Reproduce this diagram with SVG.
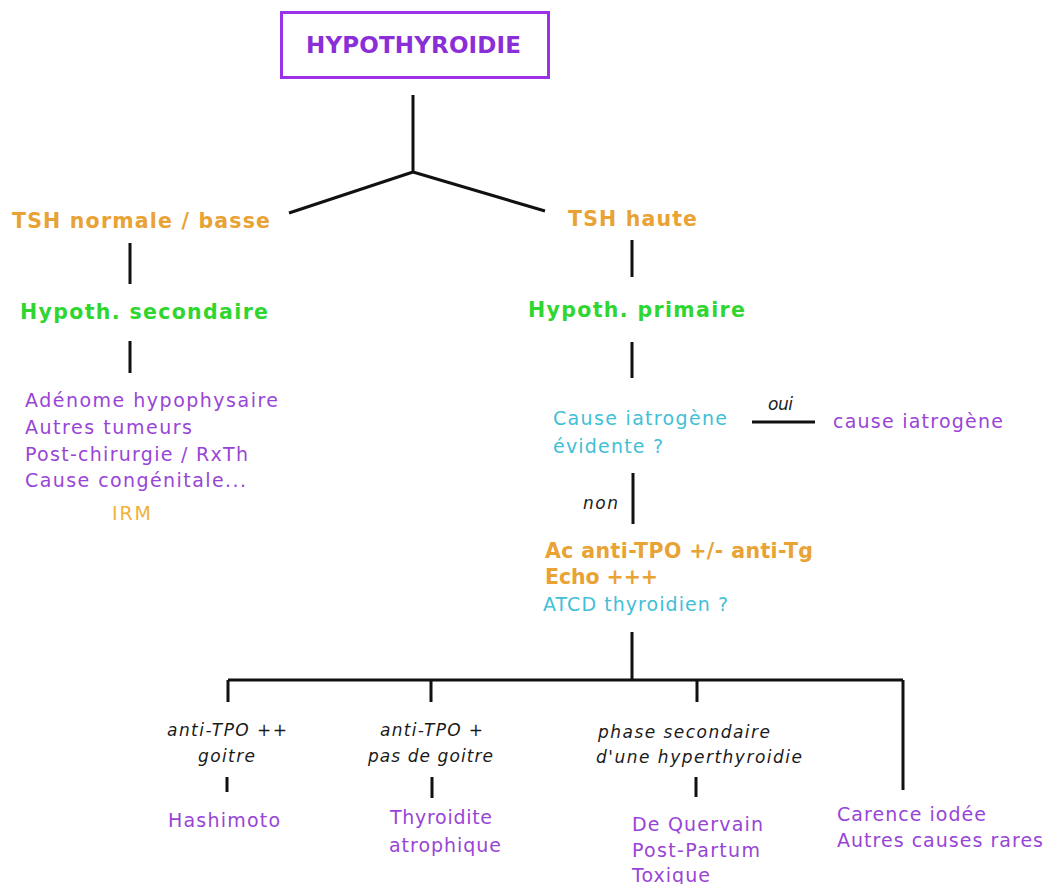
<svg xmlns="http://www.w3.org/2000/svg" width="1045" height="884" viewBox="0 0 1045 884">
  <style>
    text { font-family: "DejaVu Sans", Verdana, sans-serif; }
    .title { font-size: 23px; font-weight: bold; fill: #8a2ed8; }
    .head-o { font-size: 20.5px; font-weight: bold; fill: #e9a234; }
    .head-g { font-size: 20.5px; font-weight: bold; fill: #2fd62f; }
    .cause { font-size: 19px; fill: #9845d6; }
    .exam { font-size: 19px; fill: #f0b23c; }
    .quest { font-size: 19px; fill: #3fc0d6; }
    .crit { font-size: 17px; font-style: italic; fill: #1a1a1a; }
    .link { stroke: #111; stroke-width: 3; fill: none; stroke-linecap: butt; }
  </style>

  <rect width="1045" height="884" fill="#ffffff"/>

  <!-- connectors -->
  <g id="connectors" class="link">
    <path d="M413 95 V172 M413 172 L289 213 M413 172 L545 211"/>
    <path d="M130 243 V284 M130 341 V373"/>
    <path d="M632 240 V277 M632 342 V378"/>
    <path d="M752 422 H815"/>
    <path d="M633 473 V524"/>
    <path d="M632 632 V680 M228 680 H903"/>
    <path d="M228 680 V702 M431 680 V702 M697 680 V702 M903 680 V790"/>
    <path d="M227 777 V792 M432 777 V798 M696 777 V797"/>
  </g>

  <!-- root -->
  <g id="node-hypothyroidie">
    <rect x="281.5" y="12.5" width="267" height="65" fill="#ffffff" stroke="#9b32ea" stroke-width="3"/>
    <text class="title" x="306" y="53" textLength="215">HYPOTHYROIDIE</text>
  </g>

  <!-- left branch -->
  <g id="node-tsh-basse">
    <text class="head-o" x="12" y="228" textLength="258">TSH normale / basse</text>
  </g>
  <g id="node-secondaire">
    <text class="head-g" x="20" y="319" textLength="248">Hypoth. secondaire</text>
  </g>
  <g id="node-causes-secondaires">
    <text class="cause" x="25" y="407" textLength="253">Adénome hypophysaire</text>
    <text class="cause" x="25" y="434" textLength="167">Autres tumeurs</text>
    <text class="cause" x="25" y="461" textLength="223">Post-chirurgie / RxTh</text>
    <text class="cause" x="25" y="487" textLength="221">Cause congénitale...</text>
    <text class="exam" x="112" y="520" textLength="39">IRM</text>
  </g>

  <!-- right branch -->
  <g id="node-tsh-haute">
    <text class="head-o" x="568" y="226" textLength="129">TSH haute</text>
  </g>
  <g id="node-primaire">
    <text class="head-g" x="528" y="317" textLength="217">Hypoth. primaire</text>
  </g>
  <g id="node-iatrogene-question">
    <text class="quest" x="553" y="425" textLength="174">Cause iatrogène</text>
    <text class="quest" x="553" y="453" textLength="110">évidente ?</text>
  </g>
  <g id="label-oui">
    <text class="crit" x="768" y="410" textLength="25">oui</text>
  </g>
  <g id="node-iatrogene">
    <text class="cause" x="833" y="428" textLength="170">cause iatrogène</text>
  </g>
  <g id="label-non">
    <text class="crit" x="583" y="509" textLength="35">non</text>
  </g>
  <g id="node-bilan">
    <text class="head-o" x="545" y="558" textLength="268">Ac anti-TPO +/- anti-Tg</text>
    <text class="head-o" x="545" y="584" textLength="113">Echo +++</text>
    <text class="quest" x="543" y="611" textLength="185">ATCD thyroidien ?</text>
  </g>

  <!-- etiologies -->
  <g id="node-critere-hashimoto">
    <text class="crit" x="167" y="736" textLength="120">anti-TPO ++</text>
    <text class="crit" x="198" y="762" textLength="57">goitre</text>
  </g>
  <g id="node-hashimoto">
    <text class="cause" x="168" y="827" textLength="112">Hashimoto</text>
  </g>

  <g id="node-critere-atrophique">
    <text class="crit" x="380" y="736" textLength="103">anti-TPO +</text>
    <text class="crit" x="368" y="762" textLength="125">pas de goitre</text>
  </g>
  <g id="node-atrophique">
    <text class="cause" x="390" y="824" textLength="102">Thyroidite</text>
    <text class="cause" x="389" y="852" textLength="112">atrophique</text>
  </g>

  <g id="node-critere-hyper">
    <text class="crit" x="598" y="738" textLength="172">phase secondaire</text>
    <text class="crit" x="596" y="763" textLength="206">d'une hyperthyroidie</text>
  </g>
  <g id="node-thyroidites">
    <text class="cause" x="632" y="831" textLength="131">De Quervain</text>
    <text class="cause" x="632" y="857" textLength="128">Post-Partum</text>
    <text class="cause" x="632" y="882" textLength="78">Toxique</text>
  </g>

  <g id="node-autres">
    <text class="cause" x="837" y="821" textLength="149">Carence iodée</text>
    <text class="cause" x="837" y="847" textLength="206">Autres causes rares</text>
  </g>
</svg>
